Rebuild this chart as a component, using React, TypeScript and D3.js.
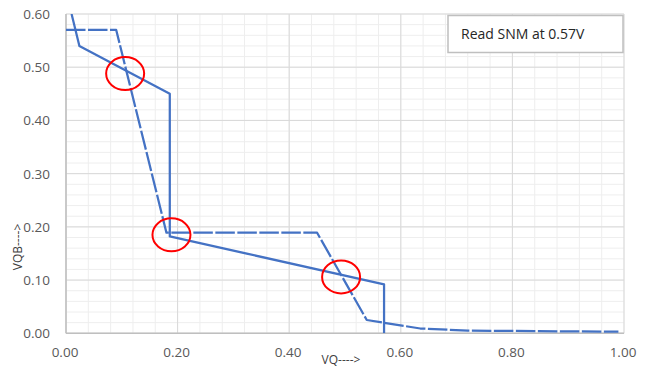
import React, { useEffect, useRef } from 'react';
import * as d3 from 'd3';

// butterfly curves (read SNM)
const solidX = [0.01, 0.024, 0.186, 0.186, 0.57, 0.57];
const solidY = [0.6, 0.54, 0.45, 0.182, 0.092, 0.0];
const dashX = [0.0, 0.09, 0.18, 0.45, 0.539, 0.635, 0.72, 0.99];
const dashY = [0.57, 0.57, 0.189, 0.189, 0.025, 0.009, 0.005, 0.003];

// red circles marking the crossing points
const markX = [0.106, 0.189, 0.493];
const markY = [0.488, 0.185, 0.106];

const xTicks = [0, 0.2, 0.4, 0.6, 0.8, 1.0];
const yTicks = [0, 0.1, 0.2, 0.3, 0.4, 0.5, 0.6];
const noteText = 'Read SNM at 0.57V';

const W = 651;
const H = 367;

const Chart = () => {
  const ref = useRef<SVGSVGElement>(null);

  useEffect(() => {
    const svg = d3.select(ref.current);
    svg.selectAll('*').remove();

    const x = d3.scaleLinear().domain([0, 1]).range([66, 624]);
    const y = d3.scaleLinear().domain([0, 0.6]).range([333.3, 14]);
    const font = "'Open Sans', sans-serif";

    svg.append('rect').attr('width', W).attr('height', H).attr('fill', '#fff');

    // minor grid
    const g = svg.append('g');
    g.selectAll('.mx')
      .data(d3.range(0, 1.0001, 0.04))
      .enter()
      .append('line')
      .attr('x1', d => x(d)).attr('x2', d => x(d))
      .attr('y1', y(0)).attr('y2', y(0.6))
      .attr('stroke', '#eeeeee').attr('stroke-width', 1);
    g.selectAll('.my')
      .data(d3.range(0, 0.6001, 0.02))
      .enter()
      .append('line')
      .attr('y1', d => y(d)).attr('y2', d => y(d))
      .attr('x1', x(0)).attr('x2', x(1))
      .attr('stroke', '#eeeeee').attr('stroke-width', 1);

    // major grid
    g.selectAll('.gx')
      .data(xTicks)
      .enter()
      .append('line')
      .attr('x1', d => x(d)).attr('x2', d => x(d))
      .attr('y1', y(0)).attr('y2', y(0.6))
      .attr('stroke', '#d9d9d9').attr('stroke-width', 1);
    g.selectAll('.gy')
      .data(yTicks)
      .enter()
      .append('line')
      .attr('y1', d => y(d)).attr('y2', d => y(d))
      .attr('x1', x(0)).attr('x2', x(1))
      .attr('stroke', '#d9d9d9').attr('stroke-width', 1);

    // axes lines
    svg.append('line')
      .attr('x1', x(0)).attr('x2', x(1)).attr('y1', y(0)).attr('y2', y(0))
      .attr('stroke', '#bfbfbf').attr('stroke-width', 1.5);
    svg.append('line')
      .attr('x1', x(0)).attr('x2', x(0)).attr('y1', y(0)).attr('y2', y(0.6))
      .attr('stroke', '#bfbfbf').attr('stroke-width', 1.5);

    // tick labels
    svg.selectAll('.xl')
      .data(xTicks)
      .enter()
      .append('text')
      .attr('x', d => x(d) - 1).attr('y', 357)
      .attr('text-anchor', 'middle')
      .attr('font-family', font).attr('font-size', 13.5).attr('fill', '#595959')
      .text(d => d.toFixed(2));
    svg.selectAll('.yl')
      .data(yTicks)
      .enter()
      .append('text')
      .attr('x', 50).attr('y', d => y(d) + 5)
      .attr('text-anchor', 'end')
      .attr('font-family', font).attr('font-size', 13.5).attr('fill', '#595959')
      .text(d => d.toFixed(2));

    // axis titles
    svg.append('text')
      .attr('x', 341).attr('y', 364)
      .attr('text-anchor', 'middle')
      .attr('font-family', font).attr('font-size', 12).attr('fill', '#404040')
      .text('VQ---->');
    svg.append('text')
      .attr('transform', 'translate(22,247) rotate(-90)')
      .attr('text-anchor', 'middle')
      .attr('font-family', font).attr('font-size', 12).attr('fill', '#404040')
      .text('VQB---->');

    const line = d3.line<number>()
      .x(d => x(d[0]))
      .y(d => y(d[1]));

    const clip = svg.append('clipPath').attr('id', 'plotclip');
    clip.append('rect').attr('x', x(0)).attr('y', y(0.6)).attr('width', x(1) - x(0)).attr('height', y(0) - y(0.6));

    const series = svg.append('g').attr('clip-path', 'url(#plotclip)');
    series.append('path')
      .attr('d', line(dashX.map((v, i) => [v, dashY[i]]) as any))
      .attr('fill', 'none')
      .attr('stroke', '#4472c4')
      .attr('stroke-width', 2.25)
      .attr('stroke-dasharray', '19.5 2.5')
      .attr('stroke-linejoin', 'round');
    series.append('path')
      .attr('d', line(solidX.map((v, i) => [v, solidY[i]]) as any))
      .attr('fill', 'none')
      .attr('stroke', '#4472c4')
      .attr('stroke-width', 2.25)
      .attr('stroke-linejoin', 'round');

    // red markers
    svg.selectAll('.mk')
      .data(markX)
      .enter()
      .append('ellipse')
      .attr('cx', d => x(d))
      .attr('cy', (d, i) => y(markY[i]))
      .attr('rx', 19).attr('ry', 16.5)
      .attr('fill', 'none')
      .attr('stroke', '#ff0000')
      .attr('stroke-width', 2);

    // note box
    svg.append('rect')
      .attr('x', 448).attr('y', 15.5).attr('width', 175).attr('height', 37)
      .attr('fill', '#fff').attr('stroke', '#bfbfbf').attr('stroke-width', 1.5);
    svg.append('text')
      .attr('x', 461).attr('y', 39)
      .attr('font-family', font).attr('font-size', 14).attr('fill', '#262626')
      .text(noteText);
  }, []);

  return (
    <svg ref={ref} width={W} height={H} style={{ position: 'absolute', left: 0, top: 0 }}></svg>
  );
};

export default function App() {
  return <Chart />;
}
